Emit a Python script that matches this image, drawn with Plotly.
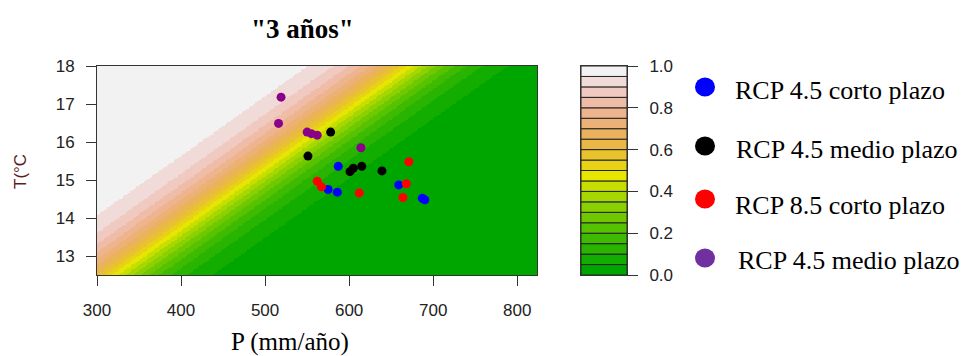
import numpy as np
import colorsys
import plotly.graph_objects as go

# ---- data ----
title_text = '"3 años"'
x_title = "P (mm/año)"
y_title = "T(°C"
x_ticks = [300, 400, 500, 600, 700, 800]
y_ticks = [13, 14, 15, 16, 17, 18]
cb_ticks = [0.0, 0.2, 0.4, 0.6, 0.8, 1.0]
cb_ticktext = ["0.0", "0.2", "0.4", "0.6", "0.8", "1.0"]
levels = [round(i * 0.05, 2) for i in range(21)]

series_names = ["RCP 4.5 corto plazo", "RCP 4.5 medio plazo",
                "RCP 8.5 corto plazo", "RCP 4.5 medio plazo"]

rcp45_corto_P = [587, 575, 586, 659, 687, 690]
rcp45_corto_T = [15.36, 14.75, 14.68, 14.87, 14.52, 14.48]

rcp45_medio_P = [551, 578, 601, 605, 615, 639]
rcp45_medio_T = [15.63, 16.26, 15.22, 15.31, 15.36, 15.24]

rcp85_corto_P = [562, 567, 612, 671, 668, 664]
rcp85_corto_T = [14.97, 14.82, 14.66, 15.48, 14.90, 14.54]

rcp45_medio2_P = [519, 516, 550, 555, 562, 614]
rcp45_medio2_T = [17.18, 16.49, 16.26, 16.22, 16.18, 15.85]

# probability surface (logistic model)
P_range = [300, 823.5]
T_range = [12.5, 18.0]
P_half_at_Tmin = 318.0     # P where prob = 0.5 at T = 12.5
P_per_degree = 63.8        # shift of the 0.5 line per degree
k_green = 0.0245
k_white = 0.025

# ---- colours (R terrain.colors(20)) ----
def terrain_colors(n):
    k = n // 2
    out = []
    for i in range(k):
        t = i / (k - 1)
        h = 1/3 + (1/6 - 1/3) * t
        s = 1.0
        v = 0.65 + 0.25 * t
        out.append(colorsys.hsv_to_rgb(h, s, v))
    m = n - k + 1
    for i in range(1, m):
        t = i / (m - 1)
        h = (1/6) * (1 - t)
        s = 1 - t
        v = 0.9 + 0.05 * t
        out.append(colorsys.hsv_to_rgb(h, s, v))
    return ["#%02X%02X%02X" % tuple(int(round(c * 255)) for c in rgb) for rgb in out]

ncol = len(levels) - 1
cols = terrain_colors(ncol)
cscale = []
for i, c in enumerate(cols):
    cscale.append([i / ncol, c])
    cscale.append([(i + 1) / ncol, c])

Pg = np.linspace(P_range[0], P_range[1], 330)
Tg = np.linspace(T_range[0], T_range[1], 170)
PP, TT = np.meshgrid(Pg, Tg)
d = (P_half_at_Tmin + P_per_degree * (TT - T_range[0])) - PP
k = np.where(d >= 0, k_white, k_green)
prob = 1.0 / (1.0 + np.exp(-k * d))
zbin = np.clip(np.floor(prob / 0.05), 0, ncol - 1) + 0.5

# ---- layout geometry ----
W, H = 968, 356
L, R, T, B = 97, 968 - 627, 66, 81
pw = W - L - R
ph = H - T - B
def px(x):
    return (x - L) / pw
def py(y):
    return (H - B - y) / ph

fig = go.Figure()
fig.add_trace(go.Heatmap(x=Pg, y=Tg, z=zbin, colorscale=cscale, zmin=0, zmax=ncol,
                         showscale=False, hoverinfo="skip", xaxis="x", yaxis="y"))

tick_font = dict(family="Liberation Sans, Arial", size=17, color="#222222")
point_sets = [
    (rcp45_corto_P, rcp45_corto_T, "#0000FF"),
    (rcp45_medio_P, rcp45_medio_T, "#000000"),
    (rcp85_corto_P, rcp85_corto_T, "#FF0000"),
    (rcp45_medio2_P, rcp45_medio2_T, "#8B008B"),
]
for (xs, ys, c), nm in zip(point_sets, series_names):
    fig.add_trace(go.Scatter(x=xs, y=ys, mode="markers", name=nm,
                             marker=dict(color=c, size=9), showlegend=False,
                             xaxis="x", yaxis="y"))

# colour key as stacked bars
fig.add_trace(go.Bar(x=[0] * ncol, y=[0.05] * ncol, base=levels[:-1], width=1,
                     marker=dict(color=cols, line=dict(color="#222222", width=1)),
                     showlegend=False, hoverinfo="skip", xaxis="x2", yaxis="y2"))

axis_common = dict(showgrid=False, zeroline=False, automargin=False,
                   showline=True, mirror=True, linecolor="#333333", linewidth=1)
fig.update_layout(
    template="none",
    width=W, height=H,
    margin=dict(l=L, r=R, t=T, b=B, autoexpand=False),
    paper_bgcolor="white", plot_bgcolor="white",
    xaxis=dict(domain=[0, px(537)], range=P_range, tickvals=x_ticks,
               ticks="outside", ticklen=10, tickcolor="#333333",
               tickfont=tick_font, ticklabelstandoff=10, **axis_common),
    yaxis=dict(domain=[0, 1], range=T_range, tickvals=y_ticks,
               ticks="outside", ticklen=10, tickcolor="#333333",
               tickfont=tick_font, ticklabelstandoff=8, **axis_common),
    xaxis2=dict(domain=[px(581), 1.0], range=[-0.5, 0.5], anchor="y2",
                showticklabels=False, ticks="", **axis_common),
    yaxis2=dict(domain=[0, 1], range=[0, 1], anchor="x2", side="right",
                tickvals=cb_ticks, ticktext=cb_ticktext,
                ticks="outside", ticklen=10, tickcolor="#333333",
                tickfont=tick_font, ticklabelstandoff=8, **axis_common),
    showlegend=False,
)

ann = []
ann.append(dict(text="<b>" + title_text + "</b>", x=px(302), y=py(29),
                xref="paper", yref="paper", showarrow=False,
                xanchor="center", yanchor="middle",
                font=dict(family="Liberation Serif, Times New Roman", size=27, color="black")))
ann.append(dict(text=x_title, x=px(290), y=py(342), xref="paper", yref="paper",
                showarrow=False, xanchor="center", yanchor="middle",
                font=dict(family="Liberation Serif, Times New Roman", size=25, color="black")))
ann.append(dict(text=y_title, x=px(20), y=py(172), xref="paper", yref="paper",
                showarrow=False, xanchor="center", yanchor="middle", textangle=-90,
                font=dict(family="Liberation Sans, Arial", size=17, color="#5a1e1e")))

legend_dot_colors = ["#0000FF", "#000000", "#FF0000", "#7030A0"]
legend_dot_y = [87, 146, 199, 258]
legend_text_y = [90, 149, 205, 260]
legend_text_x = [733, 734, 733, 736]
shapes = []
for nm, c, dy, ty, tx in zip(series_names, legend_dot_colors, legend_dot_y, legend_text_y, legend_text_x):
    shapes.append(dict(type="circle", xref="paper", yref="paper",
                       xsizemode="pixel", ysizemode="pixel",
                       xanchor=px(705), yanchor=py(dy),
                       x0=-10, x1=10, y0=-9.5, y1=9.5,
                       fillcolor=c, line=dict(width=0)))
    ann.append(dict(text=nm, x=px(tx), y=py(ty), xref="paper", yref="paper",
                    showarrow=False, xanchor="left", yanchor="middle",
                    font=dict(family="Liberation Serif, Times New Roman", size=26, color="black")))

fig.update_layout(annotations=ann, shapes=shapes)
fig.write_html("out.html", config={"displayModeBar": False},
               post_script="document.body.style.margin='0';document.body.style.overflow='hidden';")
